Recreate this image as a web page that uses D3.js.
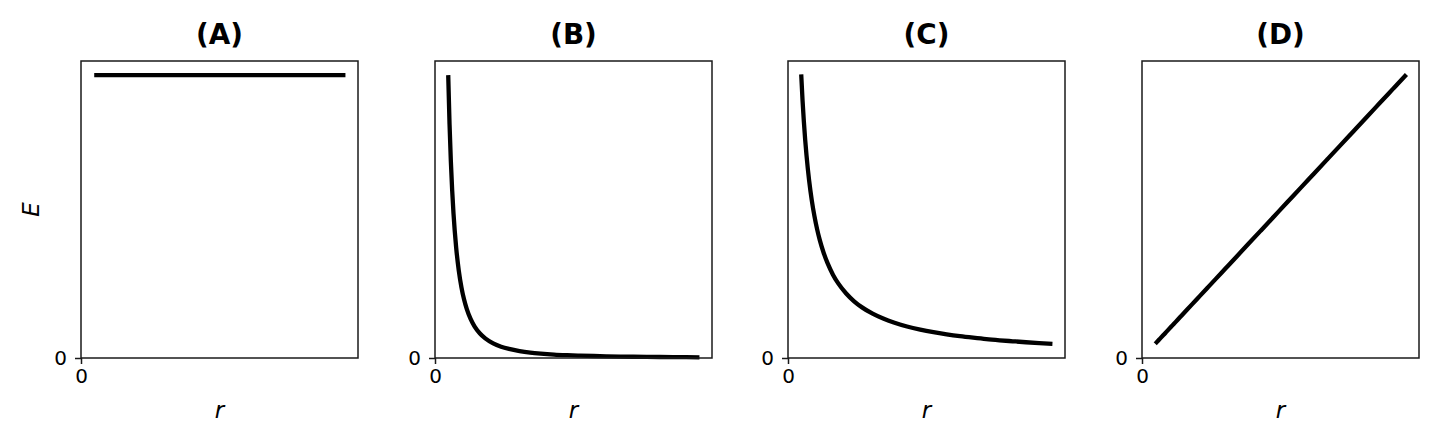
<!DOCTYPE html>
<html lang="en">
<head>
<meta charset="UTF-8">
<title>E vs r</title>
<script src="https://cdn.jsdelivr.net/npm/d3@7/dist/d3.min.js"></script>
<style>
  body { margin: 0; background: #fff; }
  svg text { font-family: "DejaVu Sans", sans-serif; }
</style>
</head>
<body>
<div id="chart"></div>
<script>
// sample distances (same for every panel)
var rValues = [0.5, 0.55, 0.6, 0.65, 0.7, 0.8, 0.9, 1.0, 1.1, 1.2, 1.35, 1.5, 1.7, 1.9, 2.2, 2.5, 2.8, 3.2, 3.6, 4.0, 4.5, 5.0, 5.5, 6.0, 6.5, 7.0, 7.5, 8.0, 8.5, 9.0, 9.5, 10.0];

// panel titles
var panelTitles = ["(A)", "(B)", "(C)", "(D)"];

// E values
var energyA = [1, 1, 1, 1, 1, 1, 1, 1, 1, 1, 1, 1, 1, 1, 1, 1, 1, 1, 1, 1, 1, 1, 1, 1, 1, 1, 1, 1, 1, 1, 1, 1];
var energyB = [4.0, 3.306, 2.778, 2.367, 2.041, 1.563, 1.235, 1.0, 0.826, 0.694, 0.549, 0.444, 0.346, 0.277, 0.207, 0.16, 0.128, 0.098, 0.077, 0.0625, 0.049, 0.04, 0.033, 0.028, 0.024, 0.0204, 0.0178, 0.0156, 0.0138, 0.0123, 0.0111, 0.01];
var energyC = [2.0, 1.818, 1.667, 1.538, 1.429, 1.25, 1.111, 1.0, 0.909, 0.833, 0.741, 0.667, 0.588, 0.526, 0.455, 0.4, 0.357, 0.3125, 0.278, 0.25, 0.222, 0.2, 0.182, 0.167, 0.154, 0.143, 0.133, 0.125, 0.118, 0.111, 0.105, 0.1];
var energyD = [0.5, 0.55, 0.6, 0.65, 0.7, 0.8, 0.9, 1.0, 1.1, 1.2, 1.35, 1.5, 1.7, 1.9, 2.2, 2.5, 2.8, 3.2, 3.6, 4.0, 4.5, 5.0, 5.5, 6.0, 6.5, 7.0, 7.5, 8.0, 8.5, 9.0, 9.5, 10.0];

// axis limits (top of E axis per panel)
var xMax = 10.475;
var yTops = [1.05, 4.2, 2.095, 10.475];

// tick labels
var xTicks = [0];
var yTicks = [0];

var series = [energyA, energyB, energyC, energyD];

var svg = d3.select('#chart')
    .append('svg')
    .attr('width', 1440)
    .attr('height', 447);

var panelLeft = [81, 435, 788, 1142];
var panelTop = 61;
var width = 277;
var height = 297;

panelTitles.forEach(function (title, i) {
    var g = svg.append('g')
        .attr('transform', `translate(${panelLeft[i]}, ${panelTop})`);

    var x = d3.scaleLinear().domain([0, xMax]).range([0, width]);
    var y = d3.scaleLinear().domain([0, yTops[i]]).range([height, 0]);

    var points = rValues.map(function (r, j) { return [r, series[i][j]]; });

    var line = d3.line()
        .x(function (d) { return x(d[0]); })
        .y(function (d) { return y(d[1]); })
        .curve(d3.curveMonotoneX);

    g.append('path')
        .datum(points)
        .attr('fill', 'none')
        .attr('stroke', '#000')
        .attr('stroke-width', 4.3)
        .attr('d', line);

    // frame
    g.append('rect')
        .attr('x', 0)
        .attr('y', 0)
        .attr('width', width)
        .attr('height', height)
        .attr('fill', 'none')
        .attr('stroke', '#1a1a1a')
        .attr('stroke-width', 1.5);

    var xAxis = g.append('g')
        .attr('transform', `translate(0, ${height})`)
        .call(d3.axisBottom(x).tickValues(xTicks).tickFormat(d3.format('d'))
            .tickSize(6).tickPadding(5).tickSizeOuter(0));

    var yAxis = g.append('g')
        .call(d3.axisLeft(y).tickValues(yTicks).tickFormat(d3.format('d'))
            .tickSize(6).tickPadding(8).tickSizeOuter(0));

    [xAxis, yAxis].forEach(function (a) {
        a.select('.domain').remove();
        a.selectAll('line').attr('stroke', '#1a1a1a').attr('stroke-width', 1.5);
        a.selectAll('text').attr('fill', '#000').style('font-size', '20px')
            .style('font-family', '"DejaVu Sans", sans-serif');
    });

    g.append('text')
        .attr('x', width / 2)
        .attr('y', -17)
        .attr('text-anchor', 'middle')
        .style('font-size', '27.8px')
        .style('font-weight', 'bold')
        .text(title);

    g.append('text')
        .attr('x', width / 2)
        .attr('y', height + 60)
        .attr('text-anchor', 'middle')
        .style('font-size', '23px')
        .style('font-style', 'italic')
        .text('r');

    if (i === 0) {
        g.append('text')
            .attr('transform', `translate(-42, ${height / 2}) rotate(-90)`)
            .attr('text-anchor', 'middle')
            .style('font-size', '23px')
            .style('font-style', 'italic')
            .text('E');
    }
});
</script>
</body>
</html>
